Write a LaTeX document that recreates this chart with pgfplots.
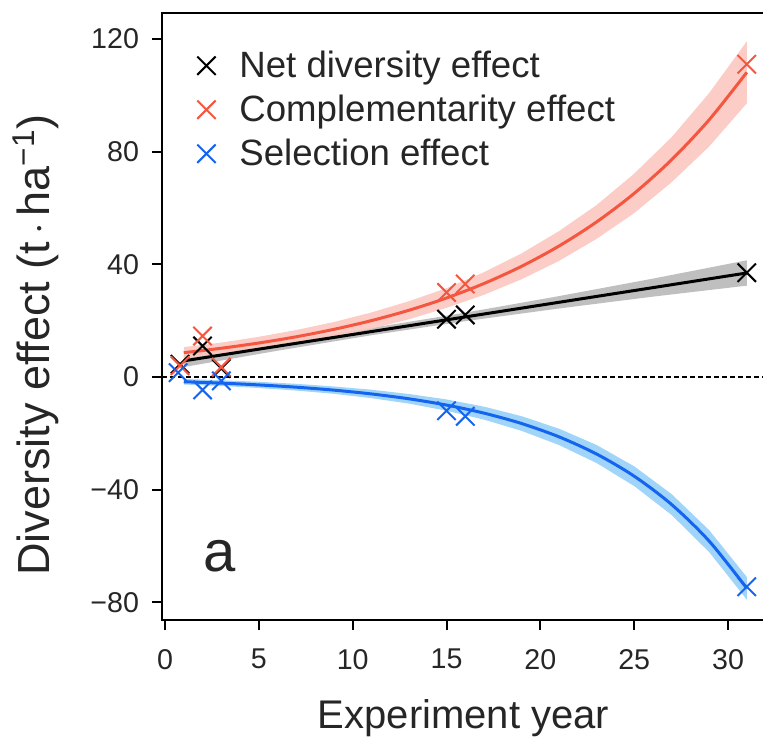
\documentclass[border=0pt]{standalone}
\usepackage{pgfplots}
\pgfplotsset{compat=1.18}
\usepackage{fontspec}
\setmainfont{Liberation Sans}
\definecolor{cred}{RGB}{244,86,64}
\definecolor{credband}{RGB}{252,200,192}
\definecolor{cblue}{RGB}{20,100,240}
\definecolor{cblueband}{RGB}{150,208,248}
\definecolor{cgrayband}{RGB}{180,180,180}
\begin{document}
\begin{tikzpicture}
\begin{axis}[
  at={(0,0)}, anchor=south west,
  scale only axis, width=301.5pt, height=303.5pt,
  xmin=-0.16, xmax=31.97, ymin=-86.3, ymax=129.2,
  axis line style={line width=1.2pt},
  tick align=outside, tick pos=left,
  major tick length=5pt,
  every tick/.style={black, line width=1pt},
  xtick={0,5,10,15,20,25,30},
  xticklabels={0,5,10,15,20,25,30},
  ytick={-80,-40,0,40,80,120},
  yticklabels={−80,−40,0,40,80,120},
  ticklabel style={font=\fontsize{14.3}{17}\selectfont, text=black!85},
  xticklabel style={yshift=-6pt},
  yticklabel style={xshift=-3pt},
  xlabel={Experiment year},
  xlabel style={at={(axis description cs:0.5,-0.178)}, anchor=base, font=\fontsize{20}{24}\selectfont, text=black!85},
  ylabel={Diversity effect (t$\,\cdot\,$ha\textsuperscript{−1})},
  ylabel style={at={(axis description cs:-0.209,0.453)}, anchor=center, rotate=0, font=\fontsize{22.5}{27}\selectfont, text=black!85},
  legend cell align=left,
  legend style={at={(axis description cs:0.0498,0.941)}, anchor=north west, draw=none, fill=none,
    font=\fontsize{18.3}{22}\selectfont, text=black!85, row sep=5.5pt, inner sep=0pt,
    nodes={inner sep=0pt, text height=14pt, text depth=2.5pt},
    column sep=0pt},
  legend image code/.code={\path (-6.5pt,0) (16pt,0); \draw[#1] plot coordinates {(0pt,0pt)};},
  clip=true,
]
% bands
\addplot[fill=cgrayband, draw=none, fill opacity=0.85, forget plot] coordinates {
 (1,7.9) (6,12.5) (11,17.4) (16,22.8) (21,28.7) (26,34.9) (31,41.4)
 (31,32.4) (26,28.5) (21,24.3) (16,19.8) (11,14.8) (6,9.3) (1,3.5)} -- cycle;
\addplot[fill=credband, draw=none, fill opacity=0.9, forget plot] coordinates {
 (1,10.6) (3,12.18) (5,14.25) (7,16.66) (9,19.49) (11,22.89) (13,26.87) (15,31.52)
 (17,37.17) (19,43.87) (21,51.79) (23,61.04) (25,72.16) (27,85.15) (29,100.83) (31,119.13)
 (31,97.13) (29,81.83) (27,69.15) (25,58.16) (23,49.04) (21,41.19) (19,34.67) (17,29.17)
 (15,24.52) (13,20.47) (11,17.09) (9,14.29) (7,11.86) (5,9.85) (3,8.18) (1,6.6)} -- cycle;
\addplot[fill=cblueband, draw=none, fill opacity=0.9, forget plot] coordinates {
 (1,-0.71) (3,-1.20) (5,-1.74) (7,-2.45) (9,-3.39) (11,-4.54) (13,-6.07) (15,-7.99)
 (17,-10.56) (19,-13.94) (21,-18.39) (23,-24.19) (25,-31.74) (27,-41.64) (29,-54.43) (31,-71.05)
 (31,-79.05) (29,-62.23) (27,-49.04) (25,-38.74) (23,-30.59) (21,-24.19) (19,-19.14) (17,-15.16)
 (15,-11.99) (13,-9.47) (11,-7.54) (9,-5.99) (7,-4.85) (5,-3.94) (3,-3.20) (1,-2.71)} -- cycle;
% zero line
\addplot[black, line width=0.7pt, dash pattern=on 2.5pt off 1.5pt, forget plot] coordinates {(-0.16,0) (31.97,0)};
% fitted lines
\addplot[black, line width=1.5pt, forget plot] coordinates {(1,5.7) (31,36.9)};
\addplot[cred, line width=1.5pt, smooth, forget plot] coordinates {
 (1,8.60) (3,10.18) (5,12.05) (7,14.26) (9,16.89) (11,19.99) (13,23.67) (15,28.02)
 (17,33.17) (19,39.27) (21,46.49) (23,55.04) (25,65.16) (27,77.15) (29,91.33) (31,108.13)};
\addplot[cblue, line width=1.5pt, smooth, forget plot] coordinates {
 (1,-1.71) (3,-2.20) (5,-2.84) (7,-3.65) (9,-4.69) (11,-6.04) (13,-7.77) (15,-9.99)
 (17,-12.86) (19,-16.54) (21,-21.29) (23,-27.39) (25,-35.24) (27,-45.34) (29,-58.33) (31,-75.05)};
% points
\addplot[black, only marks, mark=x, mark size=6.5pt, line width=1pt] coordinates {
 (0.8,4.5) (2,11) (3,3) (15,20.5) (16,22) (31,37)};
\addlegendentry{Net diversity effect}
\addplot[cred, only marks, mark=x, mark size=6.5pt, line width=1pt] coordinates {
 (0.8,4) (2,14.5) (3,3.5) (15,30) (16,33) (31,111)};
\addlegendentry{Complementarity effect}
\addplot[cblue, only marks, mark=x, mark size=6.5pt, line width=1pt] coordinates {
 (0.7,1.5) (2,-4.6) (3,-1.4) (15,-12) (16,-14) (31,-74.5)};
\addlegendentry{Selection effect}
\node[anchor=base, font=\fontsize{29}{34}\selectfont, text=black!85] at (axis cs:2.93,-69.2) {a};
\end{axis}
\pgfresetboundingbox
\useasboundingbox (-81pt,-59pt) rectangle (300.5pt,310pt);
\end{tikzpicture}
\end{document}
